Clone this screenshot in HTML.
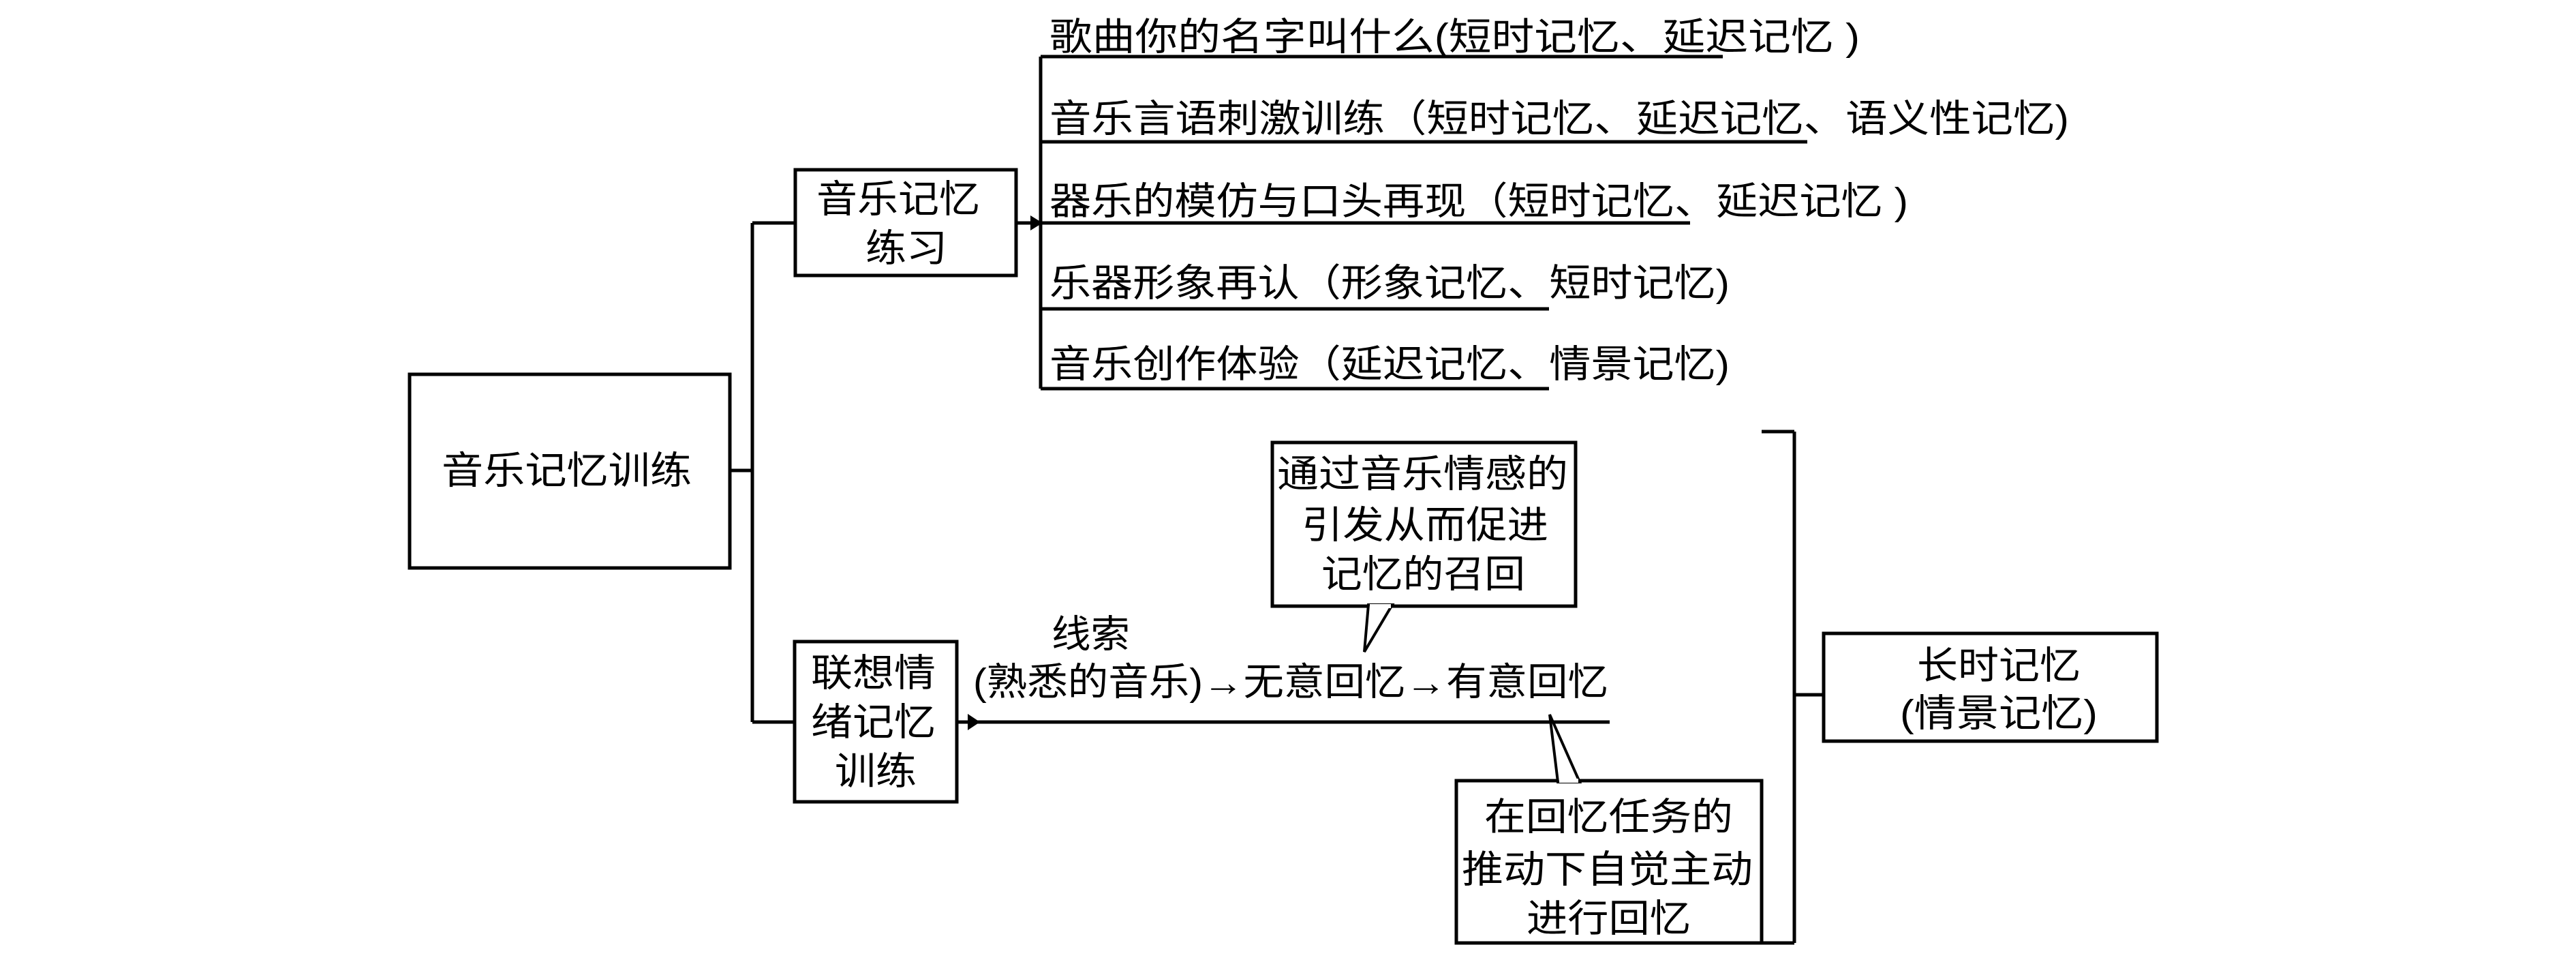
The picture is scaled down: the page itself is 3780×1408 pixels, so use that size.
<!DOCTYPE html>
<html><head><meta charset="utf-8"><style>
html,body{margin:0;padding:0;background:#fff;}
svg{display:block;}
text{font-family:"Liberation Sans","Noto Sans CJK SC",sans-serif;font-size:56px;fill:#000;dominant-baseline:central;}
</style></head><body>
<svg width="3780" height="1408" viewBox="0 0 3780 1408" xmlns="http://www.w3.org/2000/svg">
<g stroke="#000" stroke-width="5" fill="none">
<rect x="601" y="549" width="470" height="284"/>
<line x1="1071" y1="690" x2="1104" y2="690"/>
<line x1="1104" y1="327" x2="1104" y2="1059"/>
<line x1="1104" y1="327" x2="1167" y2="327"/>
<line x1="1104" y1="1059" x2="1166" y2="1059"/>
<rect x="1167" y="249" width="324" height="155"/>
<line x1="1491" y1="327" x2="1515" y2="327"/>
<line x1="1527" y1="83" x2="1527" y2="570"/>
<line x1="1527" y1="83" x2="2528" y2="83"/>
<line x1="1527" y1="208" x2="2652" y2="208"/>
<line x1="1527" y1="327" x2="2480" y2="327"/>
<line x1="1527" y1="453" x2="2273" y2="453"/>
<line x1="1527" y1="570" x2="2273" y2="570"/>
<rect x="1166" y="941" width="238" height="235"/>
<line x1="1404" y1="1059" x2="1422" y2="1059"/>
<line x1="1432" y1="1059" x2="2362" y2="1059"/>
<rect x="1867" y="649" width="445" height="240"/>
<rect x="2137" y="1145" width="448" height="238"/>
<line x1="2585" y1="633" x2="2633" y2="633"/>
<line x1="2633" y1="633" x2="2633" y2="1383"/>
<line x1="2585" y1="1383" x2="2633" y2="1383"/>
<line x1="2633" y1="1019" x2="2676" y2="1019"/>
<rect x="2676" y="929" width="489" height="158"/>
</g>
<polygon points="1512,316 1530,327 1512,338" fill="#000"/>
<polygon points="1420,1047 1438,1059 1420,1071" fill="#000"/>
<polygon points="2008,887 2043,887 2002,956" fill="#fff" stroke="#000" stroke-width="4"/>
<line x1="2010" y1="889" x2="2041" y2="889" stroke="#fff" stroke-width="6"/>
<polygon points="2286,1147 2318,1147 2274,1048" fill="#fff" stroke="#000" stroke-width="4"/>
<line x1="2288" y1="1145" x2="2316" y2="1145" stroke="#fff" stroke-width="6"/>

<text x="648" y="690" textLength="367" lengthAdjust="spacingAndGlyphs">音乐记忆训练</text>
<text x="1198" y="292" textLength="240" lengthAdjust="spacingAndGlyphs">音乐记忆</text>
<text x="1270" y="364" textLength="120" lengthAdjust="spacingAndGlyphs">练习</text>

<text x="1540" y="54" textLength="1189" lengthAdjust="spacingAndGlyphs">歌曲你的名字叫什么(短时记忆、延迟记忆 )</text>
<text x="1540" y="174" textLength="1496" lengthAdjust="spacingAndGlyphs">音乐言语刺激训练（短时记忆、延迟记忆、语义性记忆)</text>
<text x="1540" y="295" textLength="1260" lengthAdjust="spacingAndGlyphs">器乐的模仿与口头再现（短时记忆、延迟记忆 )</text>
<text x="1540" y="415" textLength="998" lengthAdjust="spacingAndGlyphs">乐器形象再认（形象记忆、短时记忆)</text>
<text x="1540" y="534" textLength="998" lengthAdjust="spacingAndGlyphs">音乐创作体验（延迟记忆、情景记忆)</text>

<text x="1190" y="987" textLength="183" lengthAdjust="spacingAndGlyphs">联想情</text>
<text x="1190" y="1059" textLength="183" lengthAdjust="spacingAndGlyphs">绪记忆</text>
<text x="1225" y="1131" textLength="120" lengthAdjust="spacingAndGlyphs">训练</text>

<text x="1543" y="930" textLength="115" lengthAdjust="spacingAndGlyphs">线索</text>
<text x="1428" y="1000" textLength="932" lengthAdjust="spacingAndGlyphs">(熟悉的音乐)<tspan font-weight="bold">→</tspan>无意回忆<tspan font-weight="bold">→</tspan>有意回忆</text>

<text x="1874" y="695" textLength="427" lengthAdjust="spacingAndGlyphs">通过音乐情感的</text>
<text x="1910" y="770" textLength="362" lengthAdjust="spacingAndGlyphs">引发从而促进</text>
<text x="1939" y="842" textLength="299" lengthAdjust="spacingAndGlyphs">记忆的召回</text>

<text x="2178" y="1198" textLength="365" lengthAdjust="spacingAndGlyphs">在回忆任务的</text>
<text x="2145" y="1275" textLength="427" lengthAdjust="spacingAndGlyphs">推动下自觉主动</text>
<text x="2240" y="1347" textLength="241" lengthAdjust="spacingAndGlyphs">进行回忆</text>

<text x="2813" y="976" textLength="240" lengthAdjust="spacingAndGlyphs">长时记忆</text>
<text x="2788" y="1046" textLength="290" lengthAdjust="spacingAndGlyphs">(情景记忆)</text>
</svg>
</body></html>
